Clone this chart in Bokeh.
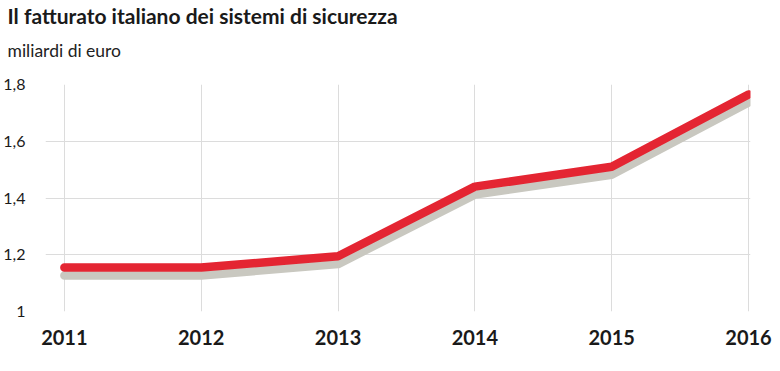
from bokeh.plotting import figure
from bokeh.models import FixedTicker, Title, Range1d, ColumnDataSource
from bokeh.transform import dodge
from bokeh.embed import file_html
from bokeh.resources import INLINE

# ---- data ----
years = [2011, 2012, 2013, 2014, 2015, 2016]
fatturato = [1.155, 1.155, 1.195, 1.44, 1.51, 1.765]
x_tick_labels = ["2011", "2012", "2013", "2014", "2015", "2016"]
y_ticks = [1.0, 1.2, 1.4, 1.6, 1.8]
y_tick_labels = ["1", "1,2", "1,4", "1,6", "1,8"]
title_text = "Il fatturato italiano dei sistemi di sicurezza"
subtitle_text = "miliardi di euro"

FONT = "Lato"
RED = "#e42532"
SHADOW = "#c9c8c0"
GRID = "#dcdcdc"

src = ColumnDataSource(dict(year=years, value=fatturato))

p = figure(width=780, height=371, output_backend="svg", toolbar_location=None,
           title=None,
           x_range=Range1d(2010.862, 2016.0145), y_range=Range1d(1.0, 1.8),
           min_border_left=40, min_border_right=30, min_border_top=84,
           min_border_bottom=60)
p.outline_line_color = None
p.background_fill_color = "white"
p.border_fill_color = "white"

# shadow line, shifted slightly downward
p.line(x="year", y=dodge("value", -0.028, range=p.y_range), source=src,
       line_color=SHADOW, line_width=8.5, line_cap="round", line_join="round")
p.line(x="year", y="value", source=src,
       line_color=RED, line_width=8.5, line_cap="round", line_join="round")

# axes
p.xaxis.ticker = FixedTicker(ticks=years)
p.xaxis.major_label_overrides = {y: l for y, l in zip(years, x_tick_labels)}
p.yaxis.ticker = FixedTicker(ticks=y_ticks)
p.yaxis.major_label_overrides = {y: l for y, l in zip(y_ticks, y_tick_labels)}
for ax in (p.xaxis, p.yaxis):
    ax.axis_line_color = None
    ax.major_tick_line_color = None
    ax.minor_tick_line_color = None
    ax.major_label_text_font = FONT
    ax.major_label_text_color = "#1a1a1a"
p.xaxis.major_label_text_font_size = "20px"
p.xaxis.major_label_text_font_style = "bold"
p.xaxis.major_label_standoff = 12
p.yaxis.major_label_text_font_size = "16px"
p.yaxis.major_label_standoff = 14

p.xgrid.ticker = FixedTicker(ticks=years)
p.ygrid.ticker = FixedTicker(ticks=y_ticks)
p.xgrid.grid_line_color = GRID
p.ygrid.grid_line_color = GRID

sub = Title(text=subtitle_text, align="left", offset=-38, text_font=FONT,
            text_font_size="17.5px", text_font_style="normal",
            text_color="#222222", standoff=47)
p.add_layout(sub, "above")
main = Title(text=title_text, align="left", offset=-38, text_font=FONT,
             text_font_size="21px", text_font_style="bold",
             text_color="#1a1a1a", standoff=-27)
p.add_layout(main, "above")

open("out.html", "w").write(file_html(p, INLINE))
